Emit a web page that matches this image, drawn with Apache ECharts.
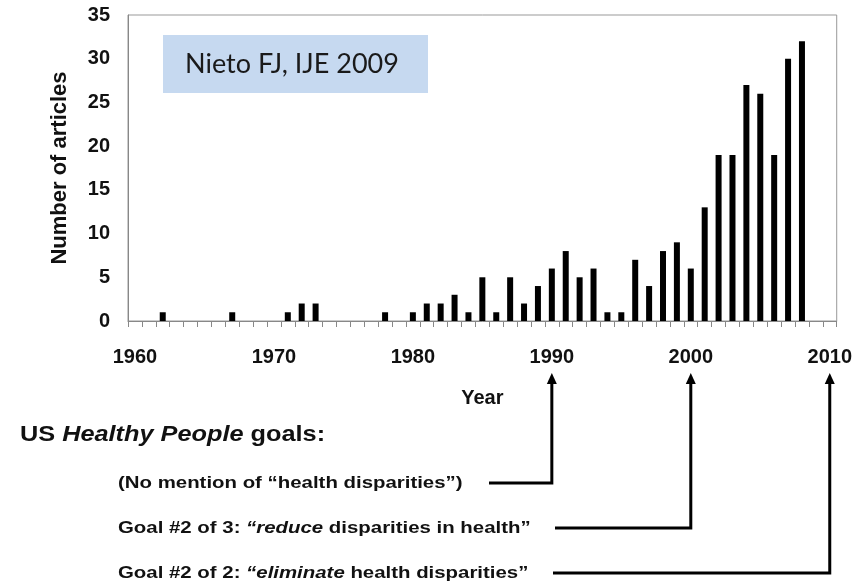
<!DOCTYPE html>
<html>
<head>
<meta charset="utf-8">
<script src="https://cdn.jsdelivr.net/npm/echarts@6/dist/echarts.min.js"></script>
<style>
  html, body { margin: 0; padding: 0; background: #fff; }
  #chart { width: 855px; height: 583px; }
</style>
</head>
<body>
<div id="chart"></div>
<script>
const years = ['1960', '1961', '1962', '1963', '1964', '1965', '1966', '1967', '1968', '1969',
  '1970', '1971', '1972', '1973', '1974', '1975', '1976', '1977', '1978', '1979',
  '1980', '1981', '1982', '1983', '1984', '1985', '1986', '1987', '1988', '1989',
  '1990', '1991', '1992', '1993', '1994', '1995', '1996', '1997', '1998', '1999',
  '2000', '2001', '2002', '2003', '2004', '2005', '2006', '2007', '2008', '2009', '2010'];
const articles = [0, 0, 1, 0, 0, 0, 0, 1, 0, 0,
  0, 1, 2, 2, 0, 0, 0, 0, 1, 0,
  1, 2, 2, 3, 1, 5, 1, 5, 2, 4,
  6, 8, 5, 6, 1, 1, 7, 4, 8, 9,
  6, 13, 19, 19, 27, 26, 19, 30, 32, 0, 0];
const labelYears = ['1960', '1970', '1980', '1990', '2000', '2010'];

const goalTitle = 'US {i|Healthy People} goals:';
const goalLines = [
  '(No mention of “health disparities”)',
  'Goal #2 of 3: {i|“reduce} disparities in health”',
  'Goal #2 of 2: {i|“eliminate} health disparities”'
];
const goalYears = ['1990', '2000', '2010'];

const font = 'Liberation Sans, Arial, sans-serif';
const chart = echarts.init(document.getElementById('chart'));

chart.setOption({
  animation: false,
  grid: {
    left: 128, right: 18, top: 15, bottom: 262,
    show: true, borderColor: '#999', borderWidth: 1
  },
  xAxis: {
    type: 'category',
    data: years,
    name: 'Year',
    nameLocation: 'middle',
    nameGap: 67,
    nameTextStyle: { fontFamily: font, fontWeight: 'bold', fontSize: 20, color: '#111' },
    axisLine: { lineStyle: { color: '#888', width: 1 } },
    axisTick: { show: true, interval: 0, length: 6, lineStyle: { color: '#888' } },
    axisLabel: {
      interval: 0,
      margin: 26,
      fontFamily: font, fontWeight: 'bold', fontSize: 20, color: '#111',
      formatter: v => labelYears.includes(v) ? v : ''
    }
  },
  yAxis: {
    type: 'value',
    min: 0, max: 35, interval: 5,
    name: 'Number of articles',
    nameLocation: 'middle',
    nameGap: 57,
    nameTextStyle: { fontFamily: font, fontWeight: 'bold', fontSize: 22, color: '#111' },
    axisLine: { show: true, lineStyle: { color: '#888', width: 1 } },
    axisTick: { show: false },
    splitLine: { show: false },
    axisLabel: { margin: 18, fontFamily: font, fontWeight: 'bold', fontSize: 20, color: '#111' }
  },
  series: [{
    type: 'bar',
    data: articles,
    barWidth: 6,
    itemStyle: { color: '#000' }
  }]
});

// annotation: source box and Healthy People goals with arrows to the axis years
const arrowTop = 373;
const rowY = [483, 528, 573];
const lineStart = [489, 555, 553];
const graphic = [
  { type: 'rect', shape: { x: 163, y: 35, width: 265, height: 58 }, style: { fill: '#c6d9f0' } },
  { type: 'text', x: 185, y: 64, style: { text: 'Nieto FJ, IJE 2009', font: '27px Lato, sans-serif', fill: '#1a1a1a', verticalAlign: 'middle' } },
  {
    type: 'text', x: 20, y: 435, scaleX: 1.15,
    style: {
      text: goalTitle, fontFamily: font, fontWeight: 'bold', fontSize: 22, fill: '#111', verticalAlign: 'middle',
      rich: { i: { fontFamily: font, fontWeight: 'bold', fontStyle: 'italic', fontSize: 22, fill: '#111' } }
    }
  }
];
goalLines.forEach((txt, i) => {
  const ax = chart.convertToPixel({ xAxisIndex: 0 }, goalYears[i]);
  graphic.push({
    type: 'text', x: 118, y: rowY[i], scaleX: 1.2,
    style: {
      text: txt, fontFamily: font, fontWeight: 'bold', fontSize: 17, fill: '#111', verticalAlign: 'middle',
      rich: { i: { fontFamily: font, fontWeight: 'bold', fontStyle: 'italic', fontSize: 17, fill: '#111' } }
    }
  });
  graphic.push({
    type: 'polyline',
    shape: { points: [[lineStart[i], rowY[i]], [ax, rowY[i]], [ax, arrowTop + 8]] },
    style: { stroke: '#000', lineWidth: 3, fill: null }
  });
  graphic.push({
    type: 'polygon',
    shape: { points: [[ax, arrowTop], [ax - 5, arrowTop + 11], [ax + 5, arrowTop + 11]] },
    style: { fill: '#000' }
  });
});
chart.setOption({ graphic: graphic });
</script>
</body>
</html>
